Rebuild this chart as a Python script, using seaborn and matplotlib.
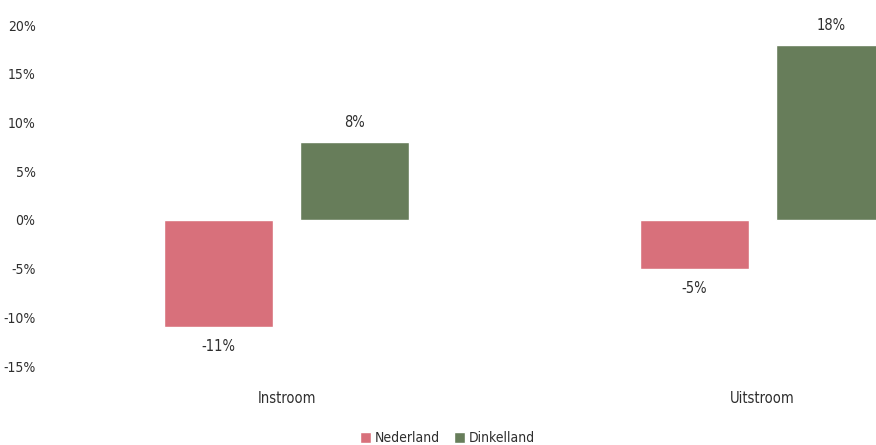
import pandas as pd
import numpy as np
import matplotlib.pyplot as plt
import seaborn as sns

# ------------------------------------------------------------------------
# Data
# ------------------------------------------------------------------------
categories = ["Instroom", "Uitstroom"]
regions = ["Nederland", "Dinkelland"]
nederland = [-11, -5]
dinkelland = [8, 18]
yticks = [-15, -10, -5, 0, 5, 10, 15, 20]

colors = {"Nederland": "#d8707b", "Dinkelland": "#677d5a"}

df = pd.DataFrame({
    "Categorie": categories * 2,
    "Regio": [regions[0]] * 2 + [regions[1]] * 2,
    "Waarde": nederland + dinkelland,
})

# ------------------------------------------------------------------------
# Plot
# ------------------------------------------------------------------------
sns.set_theme(style="white")
plt.rcParams["font.family"] = ["DejaVu Sans"]
plt.rcParams["font.stretch"] = "condensed"
text_color = "#2e2e2e"

fig = plt.figure(figsize=(8.76, 4.45), dpi=100)
ax = fig.add_axes([0.05, 0.1775, 0.95, 0.766])

sns.barplot(data=df, x="Categorie", y="Waarde", hue="Regio",
            order=categories, hue_order=regions, palette=colors,
            saturation=1, width=0.572, gap=0.2, ax=ax, legend=True)

ax.set_xlim(-0.51, 1.238)
ax.set_ylim(-15, 20)
ax.set_yticks(yticks)
ax.set_yticklabels([f"{t}%" for t in yticks], fontsize=10, color=text_color)
ax.tick_params(axis="x", labelsize=10.5, colors=text_color, pad=18, length=0)
ax.tick_params(axis="y", length=0, pad=6)
ax.set_xlabel("")
ax.set_ylabel("")
for s in ax.spines.values():
    s.set_visible(False)

# value labels
for cont in ax.containers:
    for bar in cont:
        h = bar.get_height()
        x = bar.get_x() + bar.get_width() / 2
        off = 2.0 if h >= 0 else -2.0
        ax.text(x, h + off, f"{h:.0f}%", ha="center", va="center",
                fontsize=10.5, color=text_color)

leg = ax.legend(loc="upper center", bbox_to_anchor=(0.485, -0.155), ncol=2,
                frameon=False, fontsize=10, handlelength=0.8, handleheight=0.8,
                handletextpad=0.3, columnspacing=1.0, labelcolor=text_color)

fig.savefig("out.png", dpi=100)
plt.close()
